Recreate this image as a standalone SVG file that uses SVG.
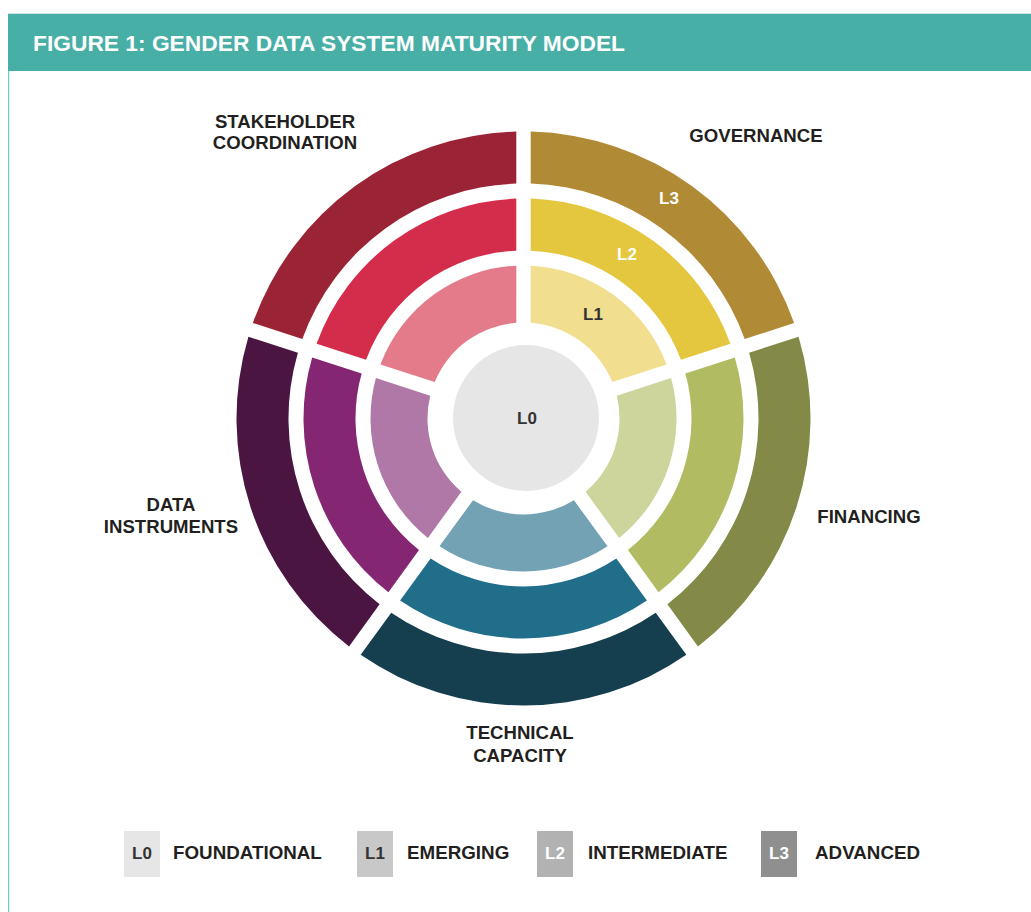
<svg xmlns="http://www.w3.org/2000/svg" xmlns:xlink="http://www.w3.org/1999/xlink" width="1031" height="912" viewBox="0 0 1031 912">
<style>
text{font-family:"Liberation Sans",Arial,sans-serif;font-weight:bold}
.lbl{font-size:18.6px;fill:#231F20;text-anchor:middle}
.lg{font-size:18.8px;fill:#231F20}
.lv{font-size:17px;text-anchor:middle}
.dark{fill:#333333}
.light{fill:#FFFFFF}
</style>
<defs>
<path id="r1" d="M7.2,-152.83 A153,153 0 0,1 143.13,-54.07 L88.82,-36.43 A96,96 0 0,0 7.2,-95.73 Z"/>
<path id="r2" d="M7.2,-219.88 A220,220 0 0,1 206.89,-74.80 L157.41,-58.72 A168,168 0 0,0 7.2,-167.85 Z"/>
<path id="r3" d="M7.2,-286.91 A287,287 0 0,1 270.64,-95.51 L221.17,-79.43 A235,235 0 0,0 7.2,-234.89 Z"/>
</defs>
<rect x="0" y="0" width="1031" height="912" fill="#FFFFFF"/>
<g id="frame">
<rect x="8" y="13" width="1023" height="1" fill="#CFE3E1"/>
<rect x="8" y="14" width="1023" height="57" fill="#48AFA7"/>
<rect x="8" y="71" width="1.3" height="841" fill="#74CCC3"/>
<text x="33" y="51" font-size="21.5" fill="#FFFFFF" textLength="592" lengthAdjust="spacingAndGlyphs">FIGURE 1: GENDER DATA SYSTEM MATURITY MODEL</text>
</g>
<g id="governance" transform="translate(523.5,418.5) rotate(0)">
<use xlink:href="#r1" fill="#F1DF8F"/>
<use xlink:href="#r2" fill="#E4C73F"/>
<use xlink:href="#r3" fill="#B08A34"/>
</g>
<g id="financing" transform="translate(523.5,418.5) rotate(72)">
<use xlink:href="#r1" fill="#CDD59D"/>
<use xlink:href="#r2" fill="#B1BB62"/>
<use xlink:href="#r3" fill="#838A47"/>
</g>
<g id="technical-capacity" transform="translate(523.5,418.5) rotate(144)">
<use xlink:href="#r1" fill="#72A2B4"/>
<use xlink:href="#r2" fill="#216E8B"/>
<use xlink:href="#r3" fill="#153E4E"/>
</g>
<g id="data-instruments" transform="translate(523.5,418.5) rotate(216)">
<use xlink:href="#r1" fill="#B078A6"/>
<use xlink:href="#r2" fill="#852673"/>
<use xlink:href="#r3" fill="#4A1541"/>
</g>
<g id="stakeholder-coordination" transform="translate(523.5,418.5) rotate(288)">
<use xlink:href="#r1" fill="#E47B8A"/>
<use xlink:href="#r2" fill="#D42D4C"/>
<use xlink:href="#r3" fill="#9B2336"/>
</g>
<g id="level0">
<circle cx="526" cy="418" r="73" fill="#E6E6E6"/>
<text class="lv dark" x="527" y="423.5" font-size="18">L0</text>
</g>
<g id="level-labels">
<text class="lv dark" x="593" y="319.5" font-size="18">L1</text>
<text class="lv light" x="627" y="259.5" font-size="18">L2</text>
<text class="lv light" x="669" y="203.5" font-size="18">L3</text>
</g>
<g id="sector-labels">
<text class="lbl" x="285" y="128">STAKEHOLDER</text>
<text class="lbl" x="285" y="149">COORDINATION</text>
<text class="lbl" x="756" y="142">GOVERNANCE</text>
<text class="lbl" x="869" y="523">FINANCING</text>
<text class="lbl" x="171" y="511">DATA</text>
<text class="lbl" x="171" y="533">INSTRUMENTS</text>
<text class="lbl" x="520" y="739">TECHNICAL</text>
<text class="lbl" x="520" y="762">CAPACITY</text>
</g>
<g id="connectors"></g>
<g id="legend">
<g id="legend-l0">
<rect x="124" y="831" width="36" height="46" fill="#E6E6E6"/>
<text class="lv dark" x="142" y="859">L0</text>
<text class="lg" x="173" y="859">FOUNDATIONAL</text>
</g>
<g id="legend-l1">
<rect x="357" y="831" width="36" height="46" fill="#C8C8C8"/>
<text class="lv dark" x="375" y="859">L1</text>
<text class="lg" x="407" y="859">EMERGING</text>
</g>
<g id="legend-l2">
<rect x="537" y="831" width="36" height="46" fill="#B2B2B2"/>
<text class="lv light" x="555" y="859">L2</text>
<text class="lg" x="588" y="859">INTERMEDIATE</text>
</g>
<g id="legend-l3">
<rect x="761" y="831" width="36" height="46" fill="#8F8F8F"/>
<text class="lv light" x="779" y="859">L3</text>
<text class="lg" x="815" y="859">ADVANCED</text>
</g>
</g>
</svg>
